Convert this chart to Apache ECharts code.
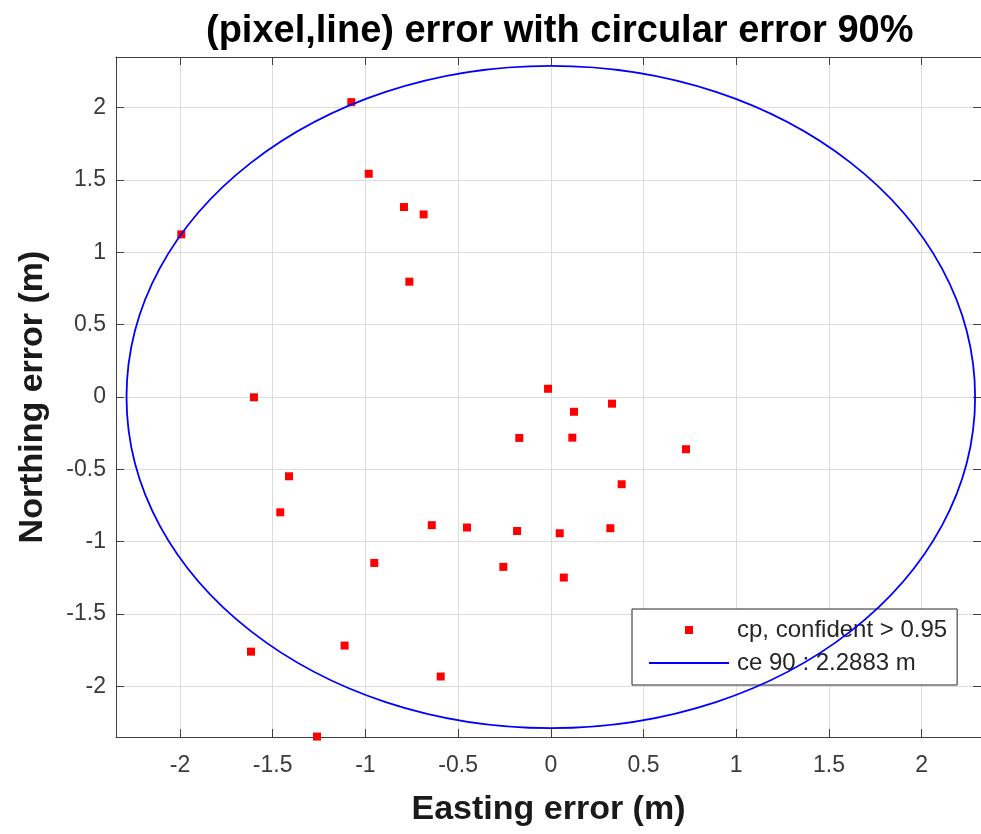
<!DOCTYPE html>
<html>
<head>
<meta charset="utf-8">
<script src="https://cdn.jsdelivr.net/npm/echarts@6/dist/echarts.min.js"></script>
<style>
  html, body { margin: 0; padding: 0; background: #fff; }
  #chart { width: 981px; height: 834px; }
</style>
</head>
<body>
<div id="chart"></div>
<script>
// control point errors (m)
const eastErr = [-1.076, -0.982, -0.792, -0.686, -0.763, -1.993, -1.601, -1.412, -1.459, -0.952,
  -0.642, -0.452, -0.182, 0.048, -0.256, 0.070, 0.321, 0.382, 0.729, 0.330,
  0.125, -0.015, -0.170, 0.116, -1.617, -1.112, -0.594, -1.261]
const northErr = [2.038, 1.543, 1.313, 1.262, 0.797, 1.124, -0.002, -0.548, -0.797, -1.147,
  -0.886, -0.902, -0.926, -0.942, -1.174, -1.248, -0.907, -0.603, -0.361, -0.046,
  -0.102, 0.057, -0.283, -0.281, -1.760, -1.718, -1.932, -2.347]
const ceRadius = 2.2883
// visible axis limits (right border of the figure is cut off)
const xMin = -2.345
const xMax = 2.32
const yLim = 2.35

const cpName = 'cp, confident > 0.95'
const ceName = 'ce 90 : ' + ceRadius.toFixed(4) + ' m'
const points = eastErr.map((e, i) => [e, northErr[i]])

const font = 'Liberation Sans, Arial, Helvetica, sans-serif'
const dark = '#262626'

function mainAxis(pos, min, max, name, gap, labelMargin) {
  return {
    type: 'value', position: pos, min: min, max: max,
    minInterval: 0.5, maxInterval: 0.5,
    name: name, nameLocation: 'middle', nameGap: gap,
    nameTextStyle: { fontFamily: font, fontSize: 34, fontWeight: 'bold', color: '#1a1a1a' },
    axisLine: { show: true, onZero: false, lineStyle: { color: '#404040', width: 1 } },
    axisTick: { show: true, inside: true, length: 8, lineStyle: { color: '#404040' } },
    axisLabel: { fontFamily: font, fontSize: 23, color: '#3a3a3a', margin: labelMargin,
      showMinLabel: false, showMaxLabel: false },
    splitLine: { show: true, lineStyle: { color: '#dcdcdc', width: 1 } }
  }
}
function sideAxis(pos, min, max, showLine) {
  return {
    type: 'value', position: pos, min: min, max: max,
    minInterval: 0.5, maxInterval: 0.5,
    axisLine: { show: showLine, onZero: false, lineStyle: { color: '#404040', width: 1 } },
    axisTick: { show: true, inside: true, length: 8, lineStyle: { color: '#404040' } },
    axisLabel: { show: false },
    splitLine: { show: false }
  }
}

const chart = echarts.init(document.getElementById('chart'))
chart.setOption({
  animation: false,
  backgroundColor: '#fff',
  title: {
    text: '(pixel,line) error with circular error 90%',
    left: 206, top: 13, padding: 0,
    textStyle: { fontFamily: font, fontSize: 38, fontWeight: 'bold', color: '#000' }
  },
  grid: { left: 116, top: 57, right: 0, height: 680 },
  xAxis: [mainAxis('bottom', xMin, xMax, 'Easting error (m)', 56, 17), sideAxis('top', xMin, xMax, true)],
  yAxis: [mainAxis('left', -yLim, yLim, 'Northing error (m)', 66, 10), sideAxis('right', -yLim, yLim, false)],
  legend: {
    orient: 'vertical', left: 632, top: 609,
    data: [
      { name: cpName, icon: 'path://M0,0H1V1H0Z' },
      { name: ceName, icon: 'path://M0,0H80V1.8H0Z' }
    ],
    itemWidth: 80, itemHeight: 8, itemGap: 9,
    padding: [9, 10, 10, 17],
    backgroundColor: '#fff', borderColor: dark, borderWidth: 1,
    selectedMode: false,
    textStyle: { fontFamily: font, fontSize: 24, lineHeight: 24, color: dark, padding: [0, 0, 0, 3] }
  },
  series: [
    {
      name: cpName, type: 'scatter', data: points,
      symbol: 'rect', symbolSize: 8,
      itemStyle: { color: '#ff0000', opacity: 1 }, z: 3
    },
    {
      name: ceName, type: 'custom', z: 4,
      data: [[0, 0, ceRadius]],
      encode: { x: 0, y: 1 },
      itemStyle: { color: '#0000ff' },
      renderItem: function (params, api) {
        const c = api.coord([api.value(0), api.value(1)])
        const s = api.size([api.value(2), api.value(2)])
        return {
          type: 'ellipse',
          shape: { cx: c[0], cy: c[1], rx: s[0], ry: s[1] },
          style: { fill: 'none', stroke: '#0000ff', lineWidth: 1.8 }
        }
      }
    }
  ]
})
</script>
</body>
</html>
